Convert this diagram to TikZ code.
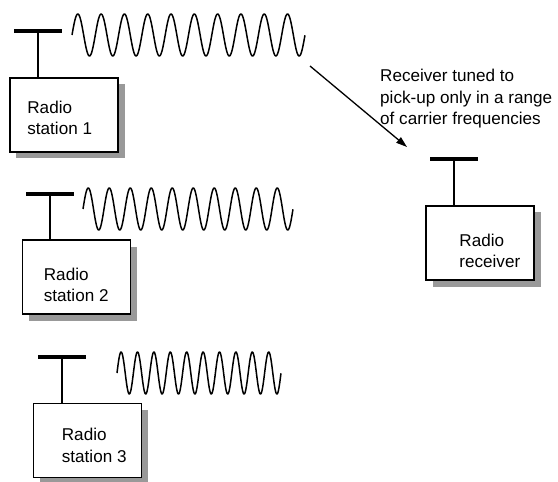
\documentclass[tikz,border=0pt]{standalone}
\usepackage{fontspec}
\setmainfont{Liberation Sans}
\usetikzlibrary{arrows.meta,positioning,shadows}

\begin{document}
\begin{tikzpicture}[x=1bp, y=-1bp,
  font=\fontsize{17.1bp}{21.5bp}\selectfont,
  radiobox/.style={draw, line width=1.6bp, fill=white, minimum width=108bp, minimum height=74bp, inner sep=0pt,
    drop shadow={shadow xshift=6.5bp, shadow yshift=-6.5bp, fill=black!40, opacity=1}},
  boxtext/.style={align=left, inner sep=0pt, anchor=north west},
  antenna/.style={fill=black, minimum width=48bp, minimum height=3.4bp, inner sep=0pt, outer sep=0pt},
  mast/.style={line width=1.3bp},
  wave/.style={line width=1.5bp, line join=round},
  signal/.style={line width=1.3bp, -{Triangle[length=11bp, width=7bp]}}]
  \useasboundingbox (0,0) rectangle (558,482);

  % transmitting stations
  \node[radiobox] (st1) at (64,115) {};
  \node[radiobox] (st2) at (76.5,277) {};
  \node[radiobox] (st3) at (87.5,440.5) {};
  \node[boxtext, below right=23.3bp and 18bp of st1.north west] (lb1) {Radio\\station 1};
  \node[boxtext, below right=28.3bp and 22bp of st2.north west] (lb2) {Radio\\station 2};
  \node[boxtext, below right=25.3bp and 29bp of st3.north west] (lb3) {Radio\\station 3};
  \node[antenna] (an1) at (38,31) {};
  \node[antenna] (an2) at (50,194) {};
  \node[antenna] (an3) at (62,357) {};
  \draw[mast] (an1) -- (an1 |- st1.north);
  \draw[mast] (an2) -- (an2 |- st2.north);
  \draw[mast] (an3) -- (an3 |- st3.north);

  % carrier waves
  \foreach \wx/\wy/\wp in {72/35/23.3, 83/209/21, 117/373/16.4}
    \draw[wave] plot[domain=0:10, samples=401] ({\wx+\wp*\x}, {\wy-21*sin(360*\x)});

  % receiver
  \node[radiobox] (rx) at (480,243) {};
  \node[boxtext, below right=28.3bp and 34bp of rx.north west] (lbrx) {Radio\\receiver};
  \node[antenna] (anrx) at (454,159) {};
  \draw[mast] (anrx) -- (anrx |- rx.north);

  \coordinate (tail) at (310,66);
  \coordinate (tip) at (407,147);
  \draw[signal] (tail) -- (tip);
  \node[boxtext] (note) at (380,69.3) {Receiver tuned to\\pick-up only in a range\\of carrier frequencies};
\end{tikzpicture}
\end{document}
